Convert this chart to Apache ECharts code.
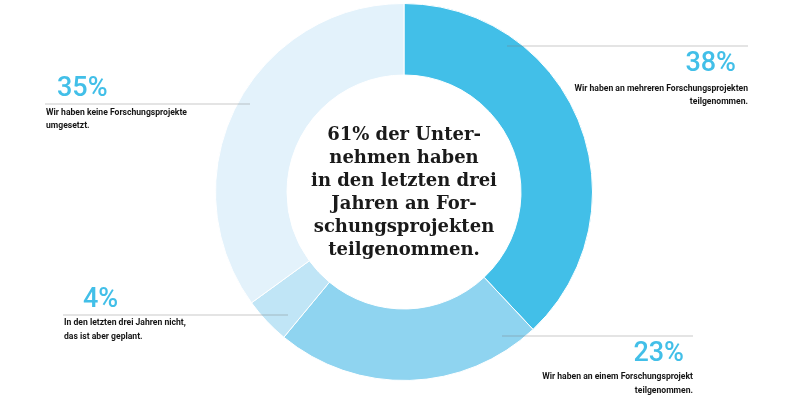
<!DOCTYPE html>
<html><head><meta charset="utf-8">
<script src="https://cdn.jsdelivr.net/npm/echarts@6/dist/echarts.min.js"></script>
<style>html,body{margin:0;padding:0;background:#fff}#c{width:805px;height:417px}</style>
</head><body><div id="c"></div>
<script>
const categories = [
  "Wir haben an mehreren Forschungsprojekten\nteilgenommen.",
  "Wir haben an einem Forschungsprojekt\nteilgenommen.",
  "In den letzten drei Jahren nicht,\ndas ist aber geplant.",
  "Wir haben keine Forschungsprojekte\numgesetzt."
];
const values = [38, 23, 4, 35];
const colors = ["#42bfe8", "#8fd4f0", "#c0e5f6", "#e3f2fb"];
const centerText = "61% der Unter-\nnehmen haben\nin den letzten drei\nJahren an For-\nschungsprojekten\nteilgenommen.";

const chart = echarts.init(document.getElementById('c'));
const cx = 404, cy = 192;
const layout = [
  {x1: 507, x2: 748, y: 46, align: 'right', px: 736, py: 18, dy: 49.5},
  {x1: 502, x2: 693, y: 336, align: 'right', px: 684, py: 18, dy: 48},
  {x1: 63, x2: 288, y: 315, align: 'left', px: 83, py: -15, dy: 15},
  {x1: 45, x2: 250, y: 104, align: 'left', px: 57, py: -15, dy: 15.5}
];
const graphics = [];
values.forEach((v, i) => {
  const L = layout[i];
  graphics.push({type: 'line', z: 10, shape: {x1: L.x1, y1: L.y, x2: L.x2, y2: L.y},
    style: {stroke: 'rgba(120,120,120,0.4)', lineWidth: 1}});
  const textX = L.align === 'right' ? L.x2 : L.x1 + 1;
  graphics.push({type: 'text', z: 10, x: L.px, y: L.y + L.py,
    style: {text: v + '%', fill: '#42bfe8', font: '500 27px Roboto', align: L.align, verticalAlign: 'middle'}});
  graphics.push({type: 'text', z: 10, x: textX, y: L.y + L.dy,
    style: {text: categories[i], fill: '#151515', font: 'bold 8.6px Roboto', align: L.align, verticalAlign: 'middle', lineHeight: 13.5}});
});
graphics.push({type: 'text', z: 10, x: cx, y: 193,
  style: {text: centerText, fill: '#1a1a1a', font: 'bold 18px "DejaVu Serif"', align: 'center', verticalAlign: 'middle', lineHeight: 23}});

chart.setOption({
  animation: false,
  series: [{
    type: 'pie',
    center: [cx, cy],
    radius: [117, 188.5],
    startAngle: 90,
    clockwise: true,
    label: {show: false},
    labelLine: {show: false},
    itemStyle: {borderColor: '#fff', borderWidth: 1},
    emphasis: {disabled: true},
    data: values.map((v, i) => ({value: v, name: categories[i], itemStyle: {color: colors[i]}}))
  }],
  graphic: graphics
});
</script></body></html>
